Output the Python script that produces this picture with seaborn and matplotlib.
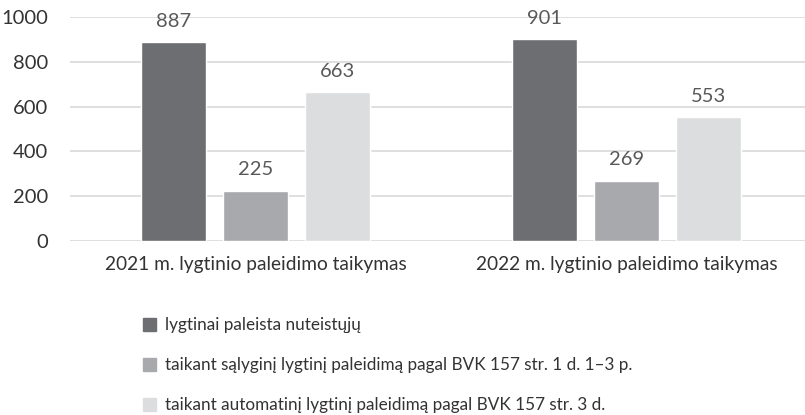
import matplotlib
matplotlib.use("Agg")
import matplotlib.pyplot as plt
import seaborn as sns
import pandas as pd

# Duomenys
groups = ['2021 m. lygtinio paleidimo taikymas', '2022 m. lygtinio paleidimo taikymas']
series = [
    'lygtinai paleista nuteistųjų',
    'taikant sąlyginį lygtinį paleidimą pagal BVK 157 str. 1 d. 1–3 p.',
    'taikant automatinį lygtinį paleidimą pagal BVK 157 str. 3 d.',
]
values_2021 = [887, 225, 663]
values_2022 = [901, 269, 553]
colors = ['#6d6e71', '#a7a9ac', '#dcdddf']

rows = []
for g, vals in zip(groups, [values_2021, values_2022]):
    for s, v in zip(series, vals):
        rows.append({'grupe': g, 'serija': s, 'reiksme': v})
df = pd.DataFrame(rows)

sns.set_style('white')
plt.rcParams['font.family'] = ['Lato', 'DejaVu Sans']

fig = plt.figure(figsize=(8.05, 4.15), dpi=100)
ax = fig.add_axes([70 / 805, 1 - 241 / 415, 742 / 805, 224 / 415])

sns.barplot(data=df, x='grupe', y='reiksme', hue='serija', hue_order=series,
            palette=colors, width=0.663, gap=0.21, saturation=1,
            ax=ax, legend=False)

for cont in ax.containers:
    ax.bar_label(cont, padding=9, fontsize=14.5, color='#595959')

ax.set_ylim(0, 1000)
ax.set_xlim(-0.5, 1.5)
ax.set_yticks([0, 200, 400, 600, 800, 1000])
ax.yaxis.grid(True, color='#d9d9d9', linewidth=1.2)
ax.set_axisbelow(True)
for sp in ax.spines.values():
    sp.set_visible(False)
ax.tick_params(axis='y', length=0, labelsize=14.5, labelcolor='#333333', pad=16)
ax.tick_params(axis='x', length=0, labelsize=13.8, labelcolor='#333333', pad=11)
ax.set_xlabel('')
ax.set_ylabel('')

handles = [plt.Rectangle((0, 0), 1, 1, color=c) for c in colors]
fig.legend(handles, series, loc='upper left', bbox_to_anchor=(128 / 805, 1 - 302 / 415),
           frameon=False, fontsize=12.3, labelcolor='#333333', handlelength=0.75,
           handleheight=0.75, handletextpad=0.5, labelspacing=1.4)

fig.savefig('out.png', dpi=100)
